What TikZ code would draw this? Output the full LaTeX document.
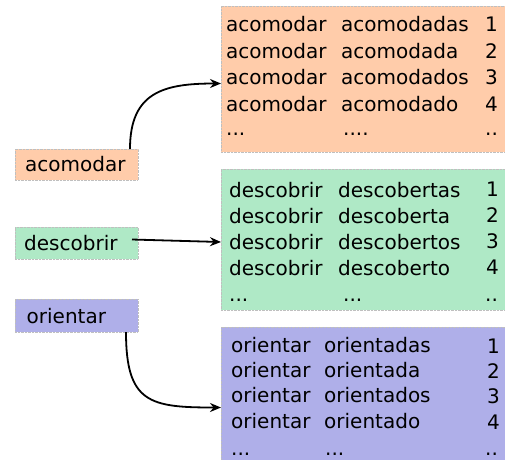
\documentclass[tikz,border=0pt]{standalone}
\usepackage{fontspec}
\setmainfont{DejaVu Sans}
\usetikzlibrary{arrows.meta}
\definecolor{cor}{HTML}{FFCCAA}
\definecolor{cgr}{HTML}{AFE9C6}
\definecolor{cpu}{HTML}{AFAFE9}
\begin{document}
\begin{tikzpicture}[x=1pt,y=-1pt,
  box/.style={draw=black!25, densely dotted, line width=0.4pt, inner sep=0pt, outer sep=0pt, anchor=north west},
  txt/.style={anchor=base west, inner sep=0pt, font=\fontsize{20}{24}\selectfont},
  conn/.style={line width=1.8pt, -{Stealth[length=11pt,width=9pt]}}]
\useasboundingbox (0,0) rectangle (505,459);
% big boxes
\node[box, fill=cor, minimum width=284pt, minimum height=146pt] (obox) at (221,6) {};
\node[box, fill=cgr, minimum width=284pt, minimum height=141pt] (gbox) at (221,169) {};
\node[box, fill=cpu, minimum width=284pt, minimum height=133pt] (pbox) at (221,327) {};
% small boxes
\node[box, fill=cor, minimum width=123pt, minimum height=31pt] (sa) at (15,149) {};
\node[box, fill=cgr, minimum width=123pt, minimum height=32pt] (sd) at (15,227) {};
\node[box, fill=cpu, minimum width=123pt, minimum height=33pt] (so) at (15,299) {};
\node[txt] (sat) at (25,171.5) {acomodar};
\node[txt] (sdt) at (24,250.5) {descobrir};
\node[txt] (sot) at (26.5,323.5) {orientar};
% orange rows
\foreach \r/\y/\b in {1/31.5/acomodadas,2/58/acomodada,3/84.5/acomodados,4/111/acomodado} {
  \node[txt] (oa\r) at (226,\y) {acomodar};
  \node[txt] (ob\r) at (341,\y) {\b};
  \node[txt] (oc\r) at (485,\y) {\r};
}
\node[txt] (oa5) at (226,135) {...};
\node[txt] (ob5) at (343,135) {....};
\node[txt] (oc5) at (485,135) {..};
% green rows
\foreach \r/\y/\b in {1/197/descobertas,2/223/descoberta,3/249/descobertos,4/275/descoberto} {
  \node[txt] (ga\r) at (229,\y) {descobrir};
  \node[txt] (gb\r) at (338,\y) {\b};
  \node[txt] (gc\r) at (486,\y-1) {\r};
}
\node[txt] (ga5) at (229,301) {...};
\node[txt] (gb5) at (343,301) {...};
\node[txt] (gc5) at (485,301) {..};
% purple rows
\foreach \r/\y/\b in {1/352/orientadas,2/377/orientada,3/402/orientados,4/428/orientado} {
  \node[txt] (pa\r) at (231,\y) {orientar};
  \node[txt] (pb\r) at (324,\y) {\b};
  \node[txt] (pc\r) at (487,\y+1) {\r};
}
\node[txt] (pa5) at (231,455) {...};
\node[txt] (pb5) at (325,455) {...};
\node[txt] (pc5) at (485,455) {..};
% connectors
\draw[conn] ([xshift=53.5pt]sa.north) to[out=90,in=180,looseness=1.3] ([yshift=-4.5pt]obox.west);
\draw[conn] ([xshift=-6pt,yshift=3.5pt]sd.east) -- ([yshift=-2.5pt]gbox.west);
\draw[conn] ([xshift=49.5pt]so.south) to[out=-90,in=180,looseness=1.5] ([yshift=-14pt]pbox.west);
\end{tikzpicture}
\end{document}
